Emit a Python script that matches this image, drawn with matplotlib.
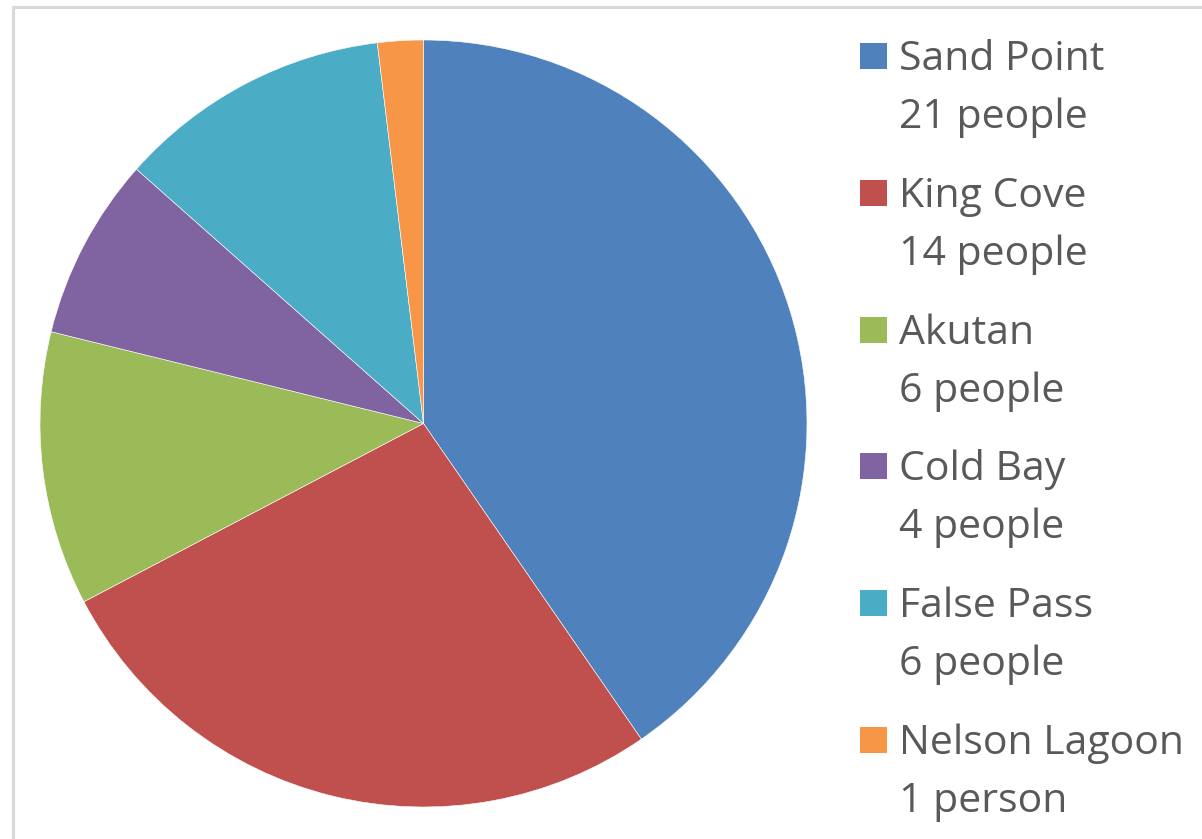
import matplotlib.pyplot as plt
from matplotlib.patches import Rectangle
from matplotlib.lines import Line2D

# Data
places = ["Sand Point", "King Cove", "Akutan", "Cold Bay", "False Pass", "Nelson Lagoon"]
people = [21, 14, 6, 4, 6, 1]
counts_text = ["21 people", "14 people", "6 people", "4 people", "6 people", "1 person"]
colors = ["#4F81BD", "#C0504D", "#9BBB59", "#8064A2", "#4BACC6", "#F79646"]

W, H = 1202, 839
fig = plt.figure(figsize=(W / 100, H / 100), dpi=100)

# pie: centre (423.5, 423.5) px, radius 383.5 px
cx, cy, r = 423.5, 423.5, 383.5
ax = fig.add_axes([(cx - r) / W, 1 - (cy + r) / H, 2 * r / W, 2 * r / H])
ax.pie(people, colors=colors, startangle=90, counterclock=False,
       wedgeprops=dict(edgecolor="white", linewidth=0.4))
ax.set_xlim(-1, 1)
ax.set_ylim(-1, 1)
ax.set_aspect("auto")
ax.axis("off")

# frame lines (left and top)
fig.add_artist(Line2D([13 / W, 13 / W], [0, 1 - 7 / H], color="#d9d9d9", lw=2.2,
                      transform=fig.transFigure))
fig.add_artist(Line2D([13 / W, 1], [1 - 7 / H, 1 - 7 / H], color="#d9d9d9", lw=2.2,
                      transform=fig.transFigure))

# legend (baselines in px from top)
y0, step, gap = 70, 136.8, 58
for i, (name, cnt, col) in enumerate(zip(places, counts_text, colors)):
    y = y0 + i * step
    fig.add_artist(Rectangle((860 / W, 1 - (y - 1) / H), 27 / W, 26 / H,
                             facecolor=col, edgecolor="none", transform=fig.transFigure))
    fig.text(899 / W, 1 - y / H, name, fontsize=29.5, color="#595959",
             family="Open Sans", weight="medium", va="baseline", ha="left")
    fig.text(899 / W, 1 - (y + gap) / H, cnt, fontsize=29.5, color="#595959",
             family="Open Sans", weight="medium", va="baseline", ha="left")

fig.savefig("out.png", dpi=100)
